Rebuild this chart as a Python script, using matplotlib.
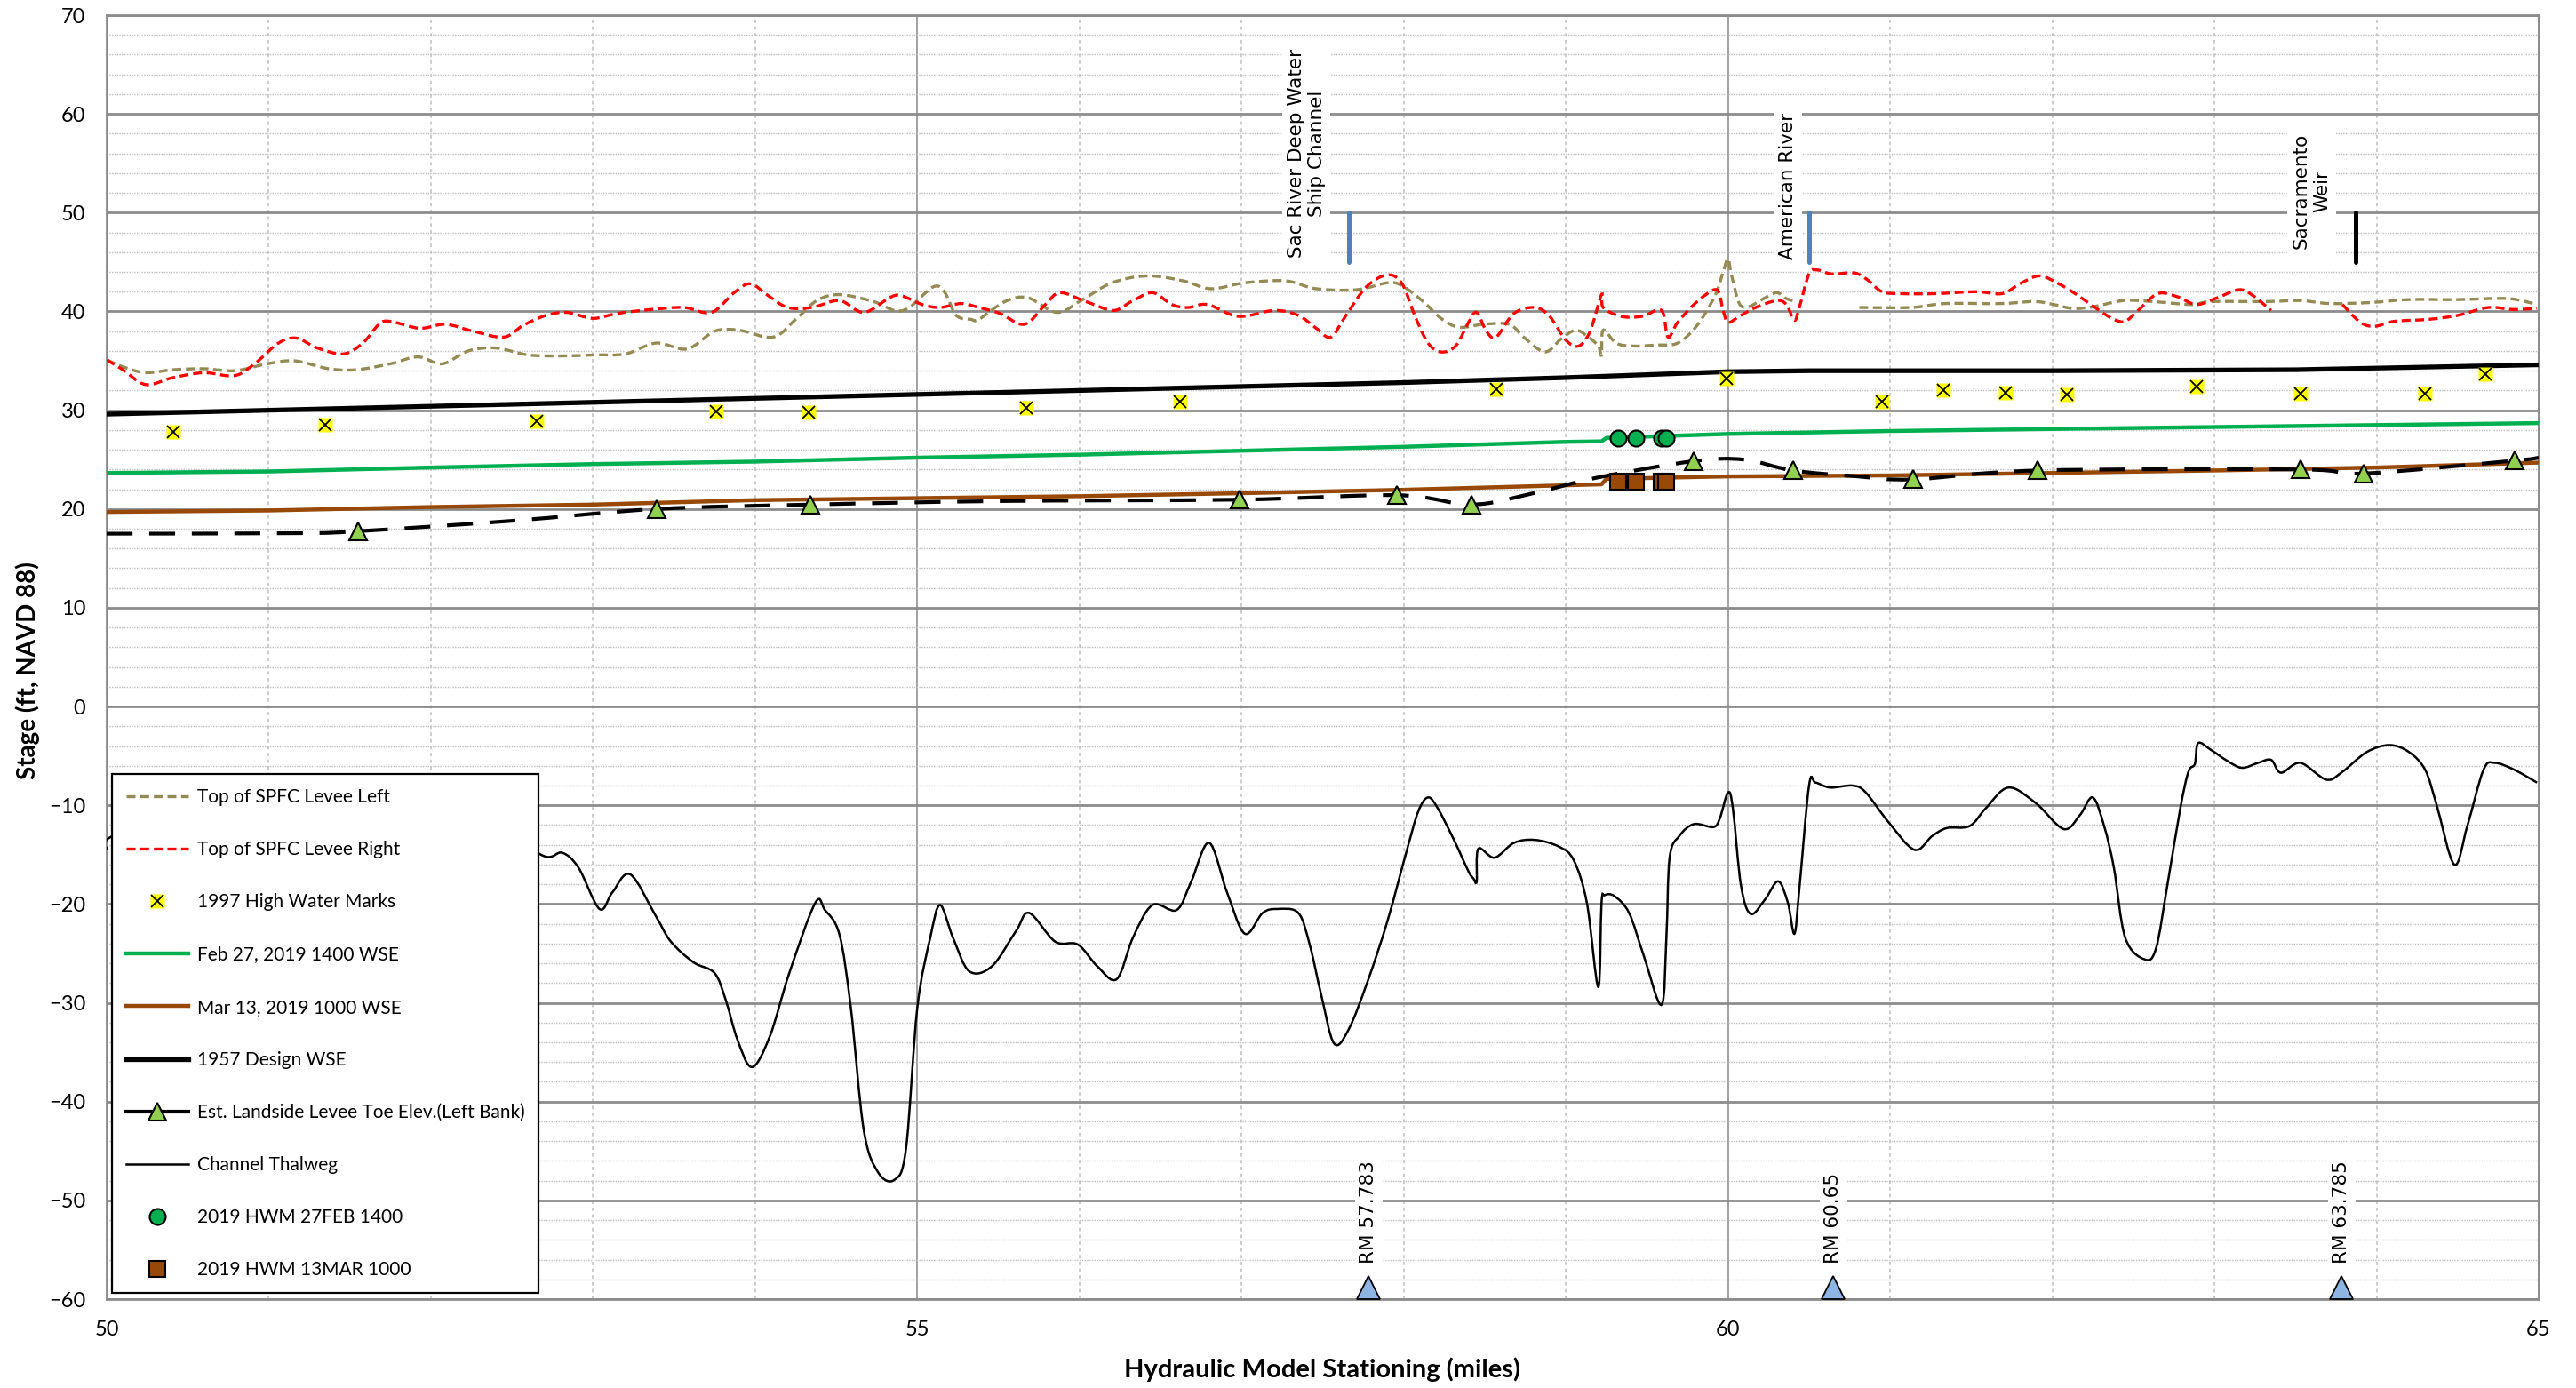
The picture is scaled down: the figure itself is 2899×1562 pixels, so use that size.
import numpy as np
import matplotlib
matplotlib.use("Agg")
import matplotlib.pyplot as plt
from matplotlib.lines import Line2D
from matplotlib.path import Path
from matplotlib.patches import PathPatch

plt.rcParams["font.family"] = ["Lato", "DejaVu Sans"]

# ---- data (miles, ft NAVD 88) ----
levee_left_mi = [50.00, 50.10, 50.24, 50.41, 50.60, 50.79, 50.99, 51.16, 51.37, 51.54, 51.75, 51.92,
                 52.07, 52.23, 52.40, 52.60, 52.81, 53.01, 53.20, 53.39, 53.58, 53.75, 53.90, 54.11,
                 54.25, 54.38, 54.52, 54.73, 54.86, 54.95, 55.10, 55.17, 55.24, 55.33, 55.38, 55.54,
                 55.68, 55.86, 56.01, 56.20, 56.42, 56.64, 56.81, 57.02, 57.27, 57.46, 57.71, 57.90,
                 57.99, 58.12, 58.23, 58.34, 58.49, 58.65, 58.74, 58.87, 58.97, 59.06, 59.14, 59.20,
                 59.22, 59.23, 59.31, 59.41, 59.56, 59.69, 59.81, 59.92, 59.97, 60.00, 60.02, 60.07,
                 60.13, 60.22, 60.30, 60.36, 60.42, 60.60, 60.81, 61.13, 61.34, 61.68, 61.89, 62.01,
                 62.13, 62.26, 62.44, 62.62, 62.86, 62.98, 63.32, 63.53, 63.71, 63.96, 64.20, 64.50,
                 64.81, 64.99]
levee_left_ft = [35.1, 34.4, 33.8, 34.1, 34.2, 34.0, 34.7, 35.0, 34.2, 34.1, 34.7, 35.4,
                 34.7, 36.0, 36.3, 35.6, 35.5, 35.6, 35.7, 36.8, 36.2, 38.0, 38.1, 37.4,
                 39.2, 41.1, 41.7, 41.0, 40.1, 40.4, 42.5, 41.9, 39.6, 39.2, 39.2, 41.0,
                 41.4, 39.9, 41.1, 42.9, 43.6, 43.1, 42.3, 42.9, 43.1, 42.3, 42.2, 42.9,
                 42.6, 41.0, 39.3, 38.4, 38.7, 38.7, 37.4, 35.9, 37.2, 38.1, 37.4, 36.5,
                 35.6, 38.1, 36.8, 36.5, 36.6, 36.8, 38.6, 41.6, 44.0, 45.3, 43.8, 40.8,
                 40.5, 41.3, 41.9, 41.3, 41.0, np.nan, 40.4, 40.4, 40.8, 40.8, 41.0, 40.7,
                 40.3, 40.5, 41.1, 41.0, 40.7, 41.0, 41.0, 41.1, 40.8, 40.9, 41.2, 41.2,
                 41.3, 40.7]

levee_right_mi = [50.00, 50.10, 50.24, 50.41, 50.60, 50.79, 50.92, 51.06, 51.17, 51.30, 51.46, 51.58,
                  51.68, 51.75, 51.93, 52.09, 52.26, 52.45, 52.57, 52.71, 52.84, 53.00, 53.15, 53.36,
                  53.56, 53.73, 53.87, 53.97, 54.08, 54.20, 54.35, 54.52, 54.67, 54.83, 54.90, 55.03,
                  55.14, 55.27, 55.38, 55.51, 55.66, 55.79, 55.88, 56.04, 56.21, 56.32, 56.45, 56.57,
                  56.67, 56.79, 56.98, 57.20, 57.35, 57.46, 57.55, 57.64, 57.77, 57.90, 57.99, 58.07,
                  58.15, 58.23, 58.32, 58.40, 58.45, 58.51, 58.57, 58.68, 58.81, 58.90, 59.00, 59.08,
                  59.15, 59.22, 59.23, 59.34, 59.47, 59.59, 59.63, 59.69, 59.81, 59.93, 59.97, 60.00,
                  60.07, 60.17, 60.30, 60.36, 60.41, 60.44, 60.50, 60.55, 60.64, 60.78, 60.86, 60.95,
                  61.07, 61.28, 61.53, 61.69, 61.80, 61.92, 62.04, 62.16, 62.29, 62.38, 62.45, 62.53,
                  62.65, 62.77, 62.89, 63.02, 63.15, 63.23, 63.35, 63.55, 63.79, 63.90, 63.99, 64.11,
                  64.32, 64.50, 64.69, 64.84, 64.99]
levee_right_ft = [35.1, 34.1, 32.6, 33.3, 33.8, 33.5, 34.8, 36.8, 37.3, 36.3, 35.7, 36.8,
                  38.7, 39.0, 38.3, 38.7, 38.0, 37.4, 38.6, 39.6, 39.9, 39.3, 39.8, 40.2,
                  40.4, 39.9, 41.9, 42.8, 41.6, 40.4, 40.4, 41.1, 39.9, 41.4, 41.6, 40.7,
                  40.4, 40.8, 40.4, 39.8, 38.7, 40.7, 41.9, 41.0, 40.1, 41.0, 41.9, 40.7,
                  40.4, 40.7, 39.5, 40.1, 39.6, 38.3, 37.4, 39.5, 42.5, 43.7, 42.8, 39.5,
                  36.8, 35.9, 36.5, 38.9, 39.9, 38.0, 37.4, 39.8, 40.4, 39.5, 37.1, 36.5,
                  38.0, 41.7, 40.4, 39.5, 39.5, 40.1, 37.4, 38.9, 41.0, 42.2, 40.1, 38.9,
                  39.5, 40.4, 41.1, 40.7, 39.1, 40.4, 43.8, 44.2, 43.8, 43.9, 43.2, 42.0,
                  41.8, 41.8, 42.0, 41.8, 42.8, 43.6, 42.8, 41.6, 40.1, 39.2, 39.0, 40.1,
                  41.8, 41.5, 40.7, 41.4, 42.2, 41.7, 40.1, np.nan, 40.7, 38.9, 38.5, 39.0,
                  39.2, 39.6, 40.4, 40.2, 40.3]

hwm1997_mi = [50.41, 51.35, 52.65, 53.76, 54.33, 55.67, 56.62, 58.57, 59.99, 60.95, 61.33, 61.71,
              62.09, 62.89, 63.53, 64.30, 64.67]
hwm1997_ft = [27.85, 28.5, 28.9, 29.9, 29.8, 30.2, 30.9, 32.1, 33.2, 30.9, 32.0, 31.8,
              31.6, 32.4, 31.7, 31.7, 33.7]

feb27_mi = [50.0, 51.0, 52.0, 53.0, 54.0, 55.0, 56.0, 57.0, 58.0, 59.0, 59.22, 59.25, 60.0, 61.0, 63.0, 65.0]
feb27_ft = [23.65, 23.8, 24.2, 24.55, 24.8, 25.2, 25.5, 25.9, 26.3, 26.8, 26.85, 27.2, 27.6, 27.9, 28.3, 28.7]

mar13_mi = [50.0, 51.0, 52.0, 53.0, 54.0, 55.0, 56.0, 57.0, 58.0, 59.0, 59.22, 59.25, 60.0, 61.0, 63.0, 64.0, 65.0]
mar13_ft = [19.7, 19.85, 20.2, 20.45, 20.9, 21.1, 21.3, 21.6, 21.95, 22.4, 22.5, 23.05, 23.3, 23.4, 23.9, 24.2, 24.7]

design1957_mi = [50.0, 51.0, 52.0, 53.0, 54.0, 55.0, 56.0, 57.0, 58.0, 59.0, 60.0, 60.5, 62.0, 63.5, 65.0]
design1957_ft = [29.6, 30.0, 30.4, 30.8, 31.2, 31.6, 32.0, 32.4, 32.8, 33.3, 33.9, 34.0, 34.0, 34.1, 34.6]

toe_mi = [50.0, 51.2, 51.55, 52.5, 53.39, 54.34, 55.5, 56.99, 57.96, 58.42, 58.8, 59.2, 59.79, 60.1,
          60.40, 60.8, 61.14, 61.91, 63.53, 63.92, 64.85, 65.0]
toe_ft = [17.5, 17.55, 17.75, 18.8, 20.0, 20.45, 20.8, 20.95, 21.4, 20.45, 21.6, 23.2, 24.85, 25.0,
          23.9, 23.3, 23.0, 23.9, 24.0, 23.6, 24.9, 25.2]
toe_marker_idx = [2, 4, 5, 7, 8, 9, 12, 14, 16, 17, 18, 19, 20]

thalweg_mi = [50.00, 50.05, 50.60, 51.30, 52.00, 52.50, 52.71, 52.81, 52.91, 53.04, 53.12, 53.23,
              53.39, 53.48, 53.62, 53.75, 53.82, 53.89, 53.98, 54.09, 54.21, 54.37, 54.43, 54.52,
              54.59, 54.67, 54.76, 54.86, 54.93, 55.00, 55.08, 55.14, 55.22, 55.32, 55.46, 55.61,
              55.69, 55.85, 55.99, 56.11, 56.23, 56.33, 56.45, 56.60, 56.69, 56.80, 56.91, 57.02,
              57.13, 57.22, 57.35, 57.42, 57.49, 57.57, 57.66, 57.78, 57.90, 58.02, 58.09, 58.15,
              58.21, 58.31, 58.40, 58.43, 58.45, 58.46, 58.56, 58.68, 58.81, 58.96, 59.05, 59.13,
              59.20, 59.22, 59.24, 59.30, 59.39, 59.48, 59.59, 59.62, 59.64, 59.70, 59.79, 59.91,
              59.95, 60.00, 60.03, 60.08, 60.14, 60.23, 60.31, 60.37, 60.41, 60.44, 60.50, 60.54,
              60.63, 60.77, 60.85, 60.99, 61.15, 61.26, 61.35, 61.49, 61.59, 61.73, 61.90, 62.07,
              62.17, 62.25, 62.32, 62.38, 62.45, 62.57, 62.64, 62.71, 62.79, 62.84, 62.88, 62.90,
              62.98, 63.08, 63.17, 63.27, 63.35, 63.41, 63.53, 63.69, 63.79, 63.94, 64.08, 64.20,
              64.30, 64.37, 64.48, 64.56, 64.66, 64.73, 64.85, 64.99]
thalweg_ft = [-14.5, -13.0, -10.5, -12.5, -11.0, -13.5, -15.2, -14.8, -16.3, -20.5, -18.8, -17.0,
              -21.3, -23.8, -25.9, -27.0, -29.8, -33.7, -36.5, -33.4, -27.0, -19.9, -20.6, -23.1,
              -30.5, -42.9, -47.2, -47.9, -44.8, -30.5, -23.4, -20.1, -23.4, -26.8, -26.3, -22.7,
              -20.9, -23.8, -24.1, -26.3, -27.6, -23.4, -20.1, -20.6, -17.7, -13.8, -18.8, -23.0,
              -20.9, -20.5, -20.9, -24.1, -29.1, -34.1, -32.7, -27.7, -21.7, -14.5, -10.6, -9.2,
              -10.3, -13.5, -16.7, -17.4, -17.7, -14.4, -15.3, -13.8, -13.5, -14.2, -15.6, -19.9,
              -28.4, -19.9, -19.1, -19.2, -20.9, -25.2, -30.2, -23.4, -15.3, -13.1, -11.9, -12.2,
              -11.3, -8.7, -10.3, -18.1, -21.0, -19.5, -17.7, -19.9, -23.0, -18.5, -8.0, -7.7,
              -8.2, -8.0, -8.7, -11.7, -14.5, -13.1, -12.3, -12.1, -10.3, -8.2, -9.8, -12.4,
              -11.0, -9.2, -12.1, -16.3, -23.4, -25.6, -24.5, -18.1, -10.3, -6.6, -5.8, -3.7,
              -4.4, -5.5, -6.2, -5.7, -5.4, -6.7, -5.7, -7.4, -6.6, -4.6, -3.9, -4.6,
              -6.4, -9.9, -16.0, -12.1, -6.4, -5.7, -6.4, -7.7]

hwm2019_mi = [59.32, 59.43, 59.59, 59.62]
hwm_feb27_ft = [27.2, 27.2, 27.2, 27.2]
hwm_mar13_ft = [22.8, 22.8, 22.8, 22.8]

features = ["Sac River Deep Water\nShip Channel", "American River", "Sacramento\nWeir"]
feature_text_mi = [57.40, 60.37, 63.60]
feature_text_ft = [45.4, 45.3, 46.3]
feature_line_mi = [57.66, 60.50, 63.87]
feature_colors = ["#4F81BD", "#4F81BD", "black"]

river_miles = [57.783, 60.65, 63.785]
river_mile_labels = ["RM 57.783", "RM 60.65", "RM 63.785"]

LEVEE_DASH = (0, (3, 1.6))
TOE_DASH = (0, (7, 4.5))


def smooth_path(xs, ys):
    """Excel-style smoothed line: cubic Bezier through the points (Catmull-Rom
    control points); NaN breaks the line."""
    xs = np.asarray(xs, float)
    ys = np.asarray(ys, float)
    idx = np.where(~np.isnan(ys))[0]
    runs = np.split(idx, np.where(np.diff(idx) != 1)[0] + 1)
    verts, codes = [], []
    for run in runs:
        p = np.column_stack([xs[run], ys[run]])
        n = len(p)
        verts.append(p[0])
        codes.append(Path.MOVETO)
        for i in range(n - 1):
            p0 = p[i - 1] if i > 0 else p[i]
            p3 = p[i + 2] if i + 2 < n else p[i + 1]
            verts += [p[i] + (p[i + 1] - p0) / 6, p[i + 1] - (p3 - p[i]) / 6, p[i + 1]]
            codes += [Path.CURVE4] * 3
    return Path(verts, codes)


# ---- figure ----
fig = plt.figure(figsize=(28.99, 15.62), dpi=100)
ax = fig.add_axes([0.0414, 0.064, 0.9441, 0.9251])
ax.set_xlim(50, 65)
ax.set_ylim(-60, 70)
ax.set_xticks([50, 55, 60, 65])
ax.set_xticks(np.arange(50, 66, 1), minor=True)
ax.set_yticks(np.arange(-60, 71, 10))
ax.set_yticks(np.arange(-60, 71, 2), minor=True)
ax.grid(which="major", axis="y", color="#8C8C8C", lw=2.0, zorder=0)
ax.grid(which="minor", axis="y", color="#BFBFBF", lw=1.0, linestyle=(0, (1, 1)), zorder=0)
ax.grid(which="major", axis="x", color="#9A9A9A", lw=1.3, zorder=0)
ax.grid(which="minor", axis="x", color="#BFBFBF", lw=1.1, linestyle=(0, (2.5, 2.5)), zorder=0)
ax.set_axisbelow(True)
for side in ax.spines:
    ax.spines[side].set_color("#8C8C8C")
    ax.spines[side].set_linewidth(2.0)
ax.tick_params(which="both", length=0, labelsize=17, pad=17)

ax.add_patch(PathPatch(smooth_path(levee_left_mi, levee_left_ft), fc="none", ec="#948A54",
                       lw=2.4, ls=LEVEE_DASH, zorder=4))
ax.add_patch(PathPatch(smooth_path(levee_right_mi, levee_right_ft), fc="none", ec="#FF0000",
                       lw=2.4, ls=LEVEE_DASH, zorder=4))
hwm_box, = ax.plot(hwm1997_mi, hwm1997_ft, ls="none", marker="s", ms=11, mfc="#FFFF00",
                   mec="none", zorder=5)
hwm_x, = ax.plot(hwm1997_mi, hwm1997_ft, ls="none", marker="x", ms=10, mec="black", mew=1.3,
                 zorder=6)
ax.plot(feb27_mi, feb27_ft, color="#00B050", lw=3.2, zorder=3)
ax.plot(mar13_mi, mar13_ft, color="#984807", lw=3.2, zorder=3)
ax.plot(design1957_mi, design1957_ft, color="black", lw=3.8, zorder=3)
ax.add_patch(PathPatch(smooth_path(toe_mi, toe_ft), fc="none", ec="black", lw=3.0, ls=TOE_DASH,
                       zorder=4))
ax.plot([toe_mi[i] for i in toe_marker_idx], [toe_ft[i] for i in toe_marker_idx], ls="none",
        marker="^", ms=15, mfc="#92D050", mec="black", mew=1.5, zorder=6)
ax.add_patch(PathPatch(smooth_path(thalweg_mi, thalweg_ft), fc="none", ec="black", lw=1.8,
                       zorder=3))
ax.plot(hwm2019_mi, hwm_feb27_ft, ls="none", marker="o", ms=13, mfc="#00B050", mec="black",
        mew=1.5, zorder=6)
ax.plot(hwm2019_mi, hwm_mar13_ft, ls="none", marker="s", ms=13, mfc="#984807", mec="black",
        mew=1.5, zorder=6)

# feature annotations
for name, tx, ty, lx, c in zip(features, feature_text_mi, feature_text_ft, feature_line_mi,
                               feature_colors):
    ax.text(tx, ty, name, rotation=90, ha="center", va="bottom", multialignment="center",
            fontsize=15.5, family="DejaVu Sans", zorder=2,
            bbox=dict(facecolor="white", edgecolor="none", pad=4))
    ax.plot([lx, lx], [45, 50], color=c, lw=3.6, solid_capstyle="round", zorder=3)

for rm, lab in zip(river_miles, river_mile_labels):
    ax.text(rm, -56.4, lab, rotation=90, ha="center", va="bottom", fontsize=15.5,
            family="DejaVu Sans", zorder=2, bbox=dict(facecolor="white", edgecolor="none", pad=4))
    ax.plot([rm], [-58.85], ls="none", marker="^", ms=19, mfc="#8DB4E2", mec="black", mew=1.3,
            clip_on=False, zorder=7)

# legend
handles = [
    Line2D([], [], color="#948A54", lw=2.4, ls=LEVEE_DASH),
    Line2D([], [], color="#FF0000", lw=2.4, ls=LEVEE_DASH),
    (hwm_box, hwm_x),
    Line2D([], [], color="#00B050", lw=3.2),
    Line2D([], [], color="#984807", lw=3.2),
    Line2D([], [], color="black", lw=3.8),
    Line2D([], [], color="black", lw=3.0, marker="^", ms=15, mfc="#92D050", mec="black", mew=1.5),
    Line2D([], [], color="black", lw=1.8),
    Line2D([], [], ls="none", marker="o", ms=13, mfc="#00B050", mec="black", mew=1.5),
    Line2D([], [], ls="none", marker="s", ms=13, mfc="#984807", mec="black", mew=1.5),
]
labels = ["Top of SPFC Levee Left", "Top of SPFC Levee Right", "1997 High Water Marks",
          "Feb 27, 2019 1400 WSE", "Mar 13, 2019 1000 WSE", "1957 Design WSE",
          "Est. Landside Levee Toe Elev.(Left Bank)", "Channel Thalweg", "2019 HWM 27FEB 1400",
          "2019 HWM 13MAR 1000"]
leg = ax.legend(handles, labels, loc="lower left", bbox_to_anchor=(0.0022, 0.0048),
                borderaxespad=0, fontsize=15, labelspacing=1.88, handlelength=3.4,
                handletextpad=0.45, borderpad=0.75, fancybox=False, framealpha=1,
                edgecolor="black", numpoints=1)
leg.get_frame().set_linewidth(1.6)
leg.set_zorder(10)

fig.text(1488 / 2899, 0.0134, "Hydraulic Model Stationing (miles)", ha="center", va="center",
         fontsize=21, fontweight="bold")
fig.text(31 / 2899, 1 - 755 / 1562, "Stage (ft, NAVD 88)", ha="center", va="center",
         rotation=90, fontsize=20, fontweight="bold")

fig.savefig("out.png", dpi=100)
